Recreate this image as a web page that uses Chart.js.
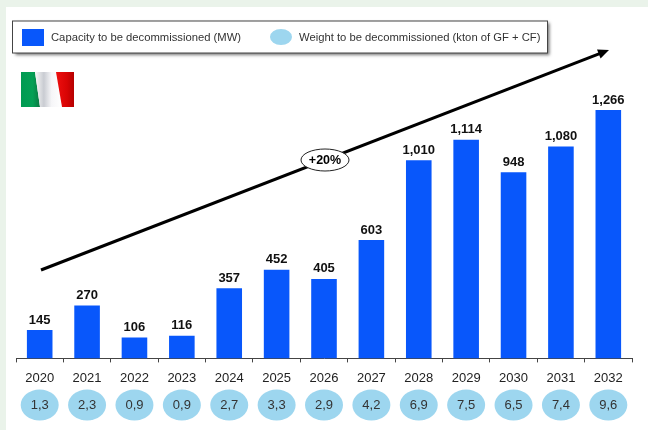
<!DOCTYPE html>
<html>
<head>
<meta charset="utf-8">
<style>html,body{margin:0;padding:0;background:#eaf3ea}canvas{display:block}</style>
<script src="https://cdn.jsdelivr.net/npm/chart.js@4"></script>
</head>
<body>
<canvas id="c" width="648" height="430"></canvas>
<script>
const years = ["2020","2021","2022","2023","2024","2025","2026","2027","2028","2029","2030","2031","2032"];
const capacityMW = [145,270,106,116,357,452,405,603,1010,1114,948,1080,1266];
const weightKton = ["1,3","2,3","0,9","0,9","2,7","3,3","2,9","4,2","6,9","7,5","6,5","7,4","9,6"];
const capacityLabel = "Capacity to be decommissioned (MW)";
const weightLabel = "Weight to be decommissioned (kton of GF + CF)";
const growthLabel = "+20%";

const FONT = '"Liberation Sans", Arial, sans-serif';
const BLUE = '#0857fb', LIGHT = '#9dd6ef', INK = '#333';

function ellipse(ctx, x, y, rx, ry) { ctx.beginPath(); ctx.ellipse(x, y, rx, ry, 0, 0, Math.PI * 2); }

const decor = {
  id: 'decor',
  beforeDraw(chart) {
    const ctx = chart.ctx;
    ctx.save();
    ctx.fillStyle = '#eaf3ea'; ctx.fillRect(0, 0, 648, 430);
    ctx.fillStyle = '#fff'; ctx.fillRect(6, 7, 642, 423);

    // flag
    const g = ctx.createLinearGradient(21, 0, 74, 0);
    g.addColorStop(0, '#009a52'); g.addColorStop(0.22, '#04a055'); g.addColorStop(0.34, '#0a7d45');
    ctx.fillStyle = g;
    ctx.beginPath(); ctx.moveTo(21, 72); ctx.lineTo(35, 72); ctx.lineTo(40, 107); ctx.lineTo(21, 107); ctx.fill();
    const w = ctx.createLinearGradient(36, 0, 62, 0);
    w.addColorStop(0, '#f4f4f4'); w.addColorStop(0.3, '#c9ccd2'); w.addColorStop(0.6, '#f6f6f8'); w.addColorStop(1, '#fff');
    ctx.fillStyle = w;
    ctx.beginPath(); ctx.moveTo(35, 72); ctx.lineTo(56, 72); ctx.lineTo(62, 107); ctx.lineTo(40, 107); ctx.fill();
    const r = ctx.createLinearGradient(55, 0, 75, 0);
    r.addColorStop(0, '#f01010'); r.addColorStop(0.6, '#d80404'); r.addColorStop(1, '#b00000');
    ctx.fillStyle = r;
    ctx.beginPath(); ctx.moveTo(56, 72); ctx.lineTo(74, 72); ctx.lineTo(74, 107); ctx.lineTo(62, 107); ctx.fill();

    // legend box
    ctx.save();
    ctx.shadowColor = 'rgba(0,0,0,0.55)'; ctx.shadowBlur = 3; ctx.shadowOffsetX = 2; ctx.shadowOffsetY = 2;
    ctx.fillStyle = '#fff'; ctx.fillRect(12.5, 21, 535, 32);
    ctx.restore();
    ctx.strokeStyle = '#444'; ctx.lineWidth = 1; ctx.strokeRect(12.5, 21, 535, 32);
    ctx.fillStyle = BLUE; ctx.fillRect(22, 29, 22, 17);
    ctx.fillStyle = LIGHT; ellipse(ctx, 281, 37, 11, 8); ctx.fill();
    ctx.fillStyle = INK; ctx.font = '11.25px ' + FONT; ctx.textAlign = 'left'; ctx.textBaseline = 'middle';
    ctx.fillText(capacityLabel, 51, 37.5);
    ctx.fillText(weightLabel, 299, 37.5);
    ctx.restore();
  },
  afterDraw(chart) {
    const ctx = chart.ctx, x = chart.scales.x, y = chart.scales.y;
    ctx.save();
    ctx.textAlign = 'center'; ctx.textBaseline = 'middle';

    // bar value labels
    ctx.fillStyle = '#111'; ctx.font = 'bold 13px ' + FONT;
    capacityMW.forEach((v, i) => {
      ctx.fillText(v.toLocaleString('en-US'), x.getPixelForValue(i), y.getPixelForValue(v) - 10);
    });

    // weight ellipses
    weightKton.forEach((t, i) => {
      const cx = x.getPixelForValue(i);
      ctx.fillStyle = LIGHT; ellipse(ctx, cx, 405, 19, 15.5); ctx.fill();
      ctx.fillStyle = INK; ctx.font = '13px ' + FONT; ctx.fillText(t, cx, 405.5);
    });

    // growth arrow
    const x0 = 41, y0 = 270, x1 = 609, y1 = 50;
    const a = Math.atan2(y1 - y0, x1 - x0);
    ctx.strokeStyle = '#000'; ctx.lineWidth = 3;
    ctx.beginPath(); ctx.moveTo(x0, y0);
    ctx.lineTo(x1 - 8 * Math.cos(a), y1 - 8 * Math.sin(a)); ctx.stroke();
    ctx.fillStyle = '#000'; ctx.beginPath(); ctx.moveTo(x1, y1);
    ctx.lineTo(x1 - 12 * Math.cos(a - 0.42), y1 - 12 * Math.sin(a - 0.42));
    ctx.lineTo(x1 - 12 * Math.cos(a + 0.42), y1 - 12 * Math.sin(a + 0.42));
    ctx.fill();

    // growth badge
    ctx.fillStyle = '#fff'; ctx.strokeStyle = '#222'; ctx.lineWidth = 1;
    ellipse(ctx, 325, 160, 24, 11); ctx.fill(); ctx.stroke();
    ctx.fillStyle = '#000'; ctx.font = 'bold 12.5px ' + FONT; ctx.fillText(growthLabel, 325, 160.5);
    ctx.restore();
  }
};

new Chart(document.getElementById('c'), {
  type: 'bar',
  data: {
    labels: years,
    datasets: [{ label: capacityLabel, data: capacityMW, backgroundColor: BLUE, barPercentage: 0.54, categoryPercentage: 1 }]
  },
  options: {
    responsive: false, animation: false,
    layout: { padding: { left: 16, right: 16, top: 64, bottom: 36 } },
    plugins: { legend: { display: false }, title: { display: false }, tooltip: { enabled: false } },
    scales: {
      y: { display: false, min: 0, max: 1500 },
      x: {
        offset: true,
        grid: { offset: true, drawOnChartArea: false, drawTicks: true, tickLength: 4, tickColor: '#444' },
        border: { color: '#444', width: 1 },
        ticks: { color: '#222', font: { family: FONT, size: 13 }, maxRotation: 0, autoSkip: false, padding: 8 }
      }
    }
  },
  plugins: [decor]
});
</script>
</body>
</html>
